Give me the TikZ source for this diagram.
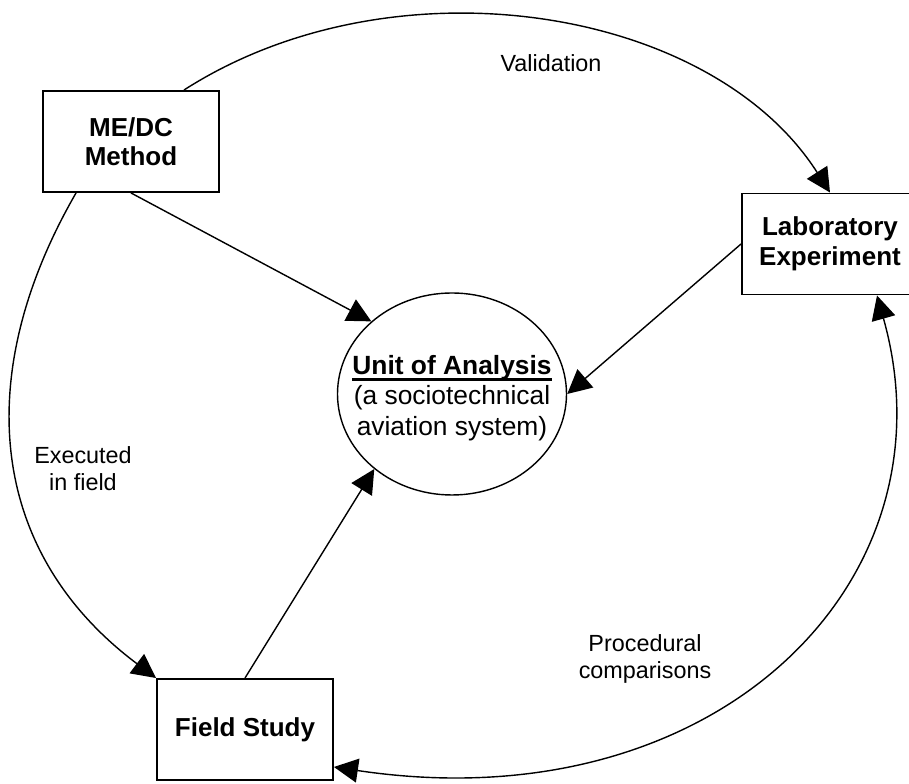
\documentclass[tikz,border=0pt]{standalone}
\usepackage{fontspec}
\setmainfont{Liberation Sans}
\usepackage{tikz}
\usetikzlibrary{shapes,arrows.meta,positioning,calc}
\newcommand{\unitul}[1]{\setbox0=\hbox{#1}\rlap{\rule[-3.6pt]{\wd0}{1.5pt}}\box0}

\tikzset{
  box/.style={draw, line width=1.1pt, minimum width=3.52cm, minimum height=2.02cm,
    align=center, inner sep=0pt, font=\fontsize{14.8}{16.8}\selectfont\bfseries},
  lbl/.style={align=center, inner sep=0pt, font=\fontsize{13.3}{15.4}\selectfont},
  arr/.style={-{Triangle[length=0.48cm,width=0.48cm]}, line width=0.8pt},
  dblarr/.style={{Triangle[length=0.48cm,width=0.48cm]}-{Triangle[length=0.48cm,width=0.48cm]}, line width=0.8pt}
}

\begin{document}
\begin{tikzpicture}
    \useasboundingbox (0,0) rectangle (18.18,15.68);

    % Unit of analysis in the middle
    \node[ellipse, draw, line width=0.8pt, minimum width=4.58cm, minimum height=4.04cm, inner sep=0pt] (unit) at (9.04,7.8) {};
    \node[align=center, inner sep=0pt, font=\fontsize{15}{17.2}\selectfont] (unittext) at ([yshift=-0.08cm]unit.center)
        {\unitul{\textbf{Unit of Analysis}}\\(a sociotechnical\\aviation system)};

    % The three boxes
    \node[box] (medc) at (2.62,12.85) {ME/DC\\Method};
    \node[box] (lab) at (16.6,10.8) {Laboratory\\Experiment};
    \node[box] (field) at (4.9,1.09) {Field Study};

    % Straight arrows into the unit
    \draw[arr] (medc.south) -- (unit.138);
    \draw[arr] (lab.west) -- (unit.east);
    \draw[arr] (field.north) -- (unit.224);

    % Big arcs round the outside
    \draw[arr] ([xshift=-0.72cm]medc.north east) .. controls +(4.18,2.68) and +(-2.39,3.74) .. (lab.north);
    \draw[arr] ([xshift=0.68cm]medc.south west) .. controls +(-2.1,-3.64) and +(-3.36,2.52) .. (field.north west);
    \draw[dblarr] ([xshift=0.94cm]lab.south) .. controls +(1.62,-5.76) and +(7.6,-1.14) .. ([yshift=-0.75cm]field.east);

    % Arc labels
    \node[lbl] (validation) at (11.02,14.42) {Validation};
    \node[lbl] (executed) at (1.66,6.31) {Executed\\in field};
    \node[lbl] (procedural) at (12.9,2.5) {Procedural\\comparisons};
\end{tikzpicture}
\end{document}
